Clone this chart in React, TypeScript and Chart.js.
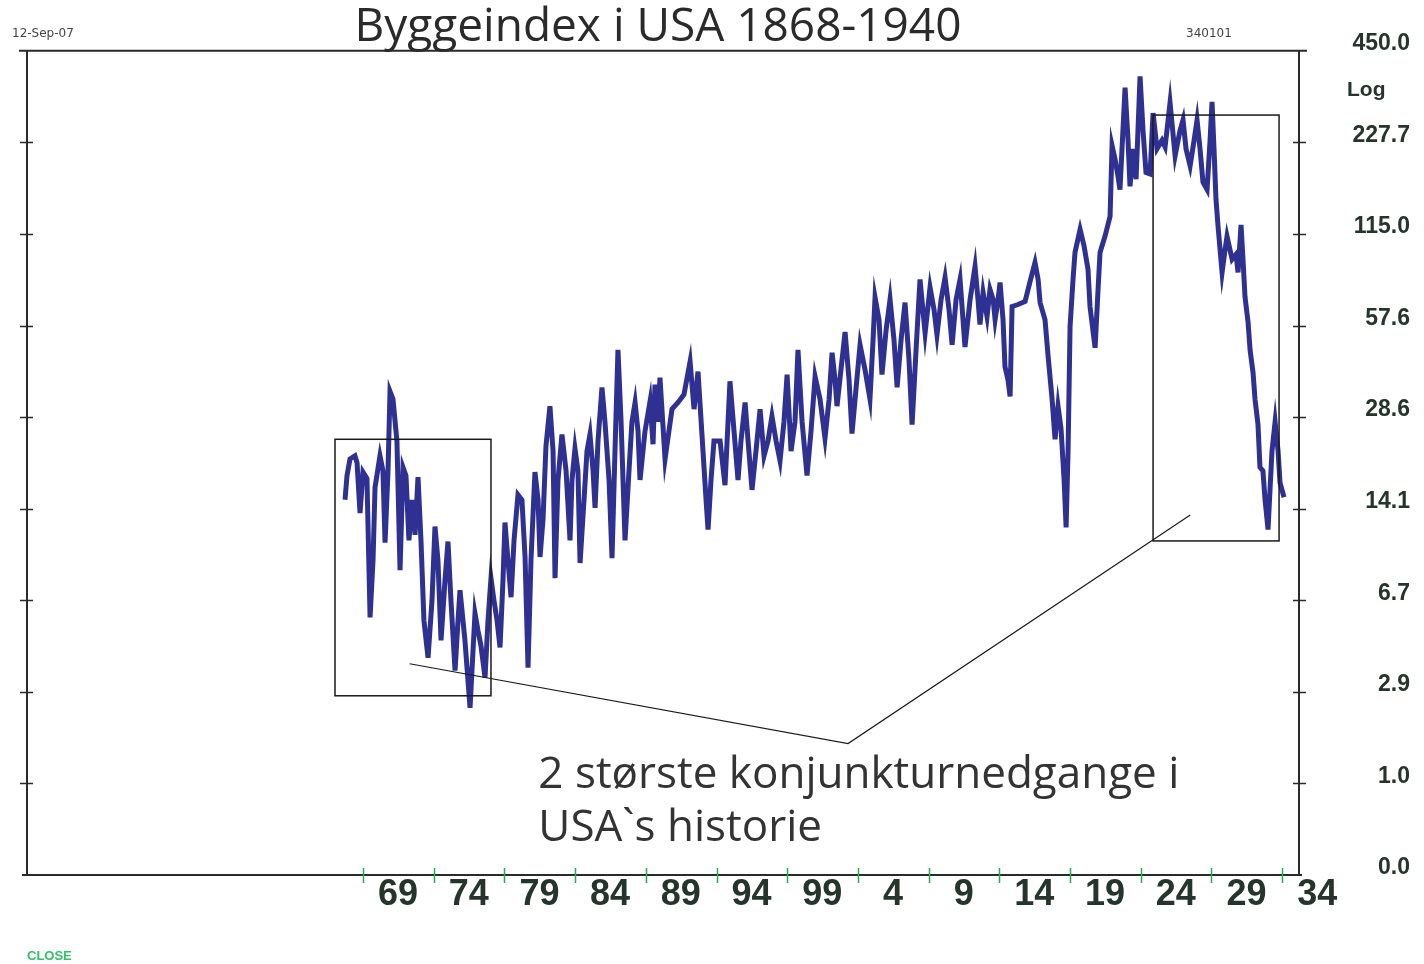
import React, { useEffect, useRef } from 'react';
import { Chart, registerables } from 'chart.js';

Chart.register(...registerables);

// ---- Data ----
const YEARS: number[] = [
  1867.73, 1867.87, 1868.08, 1868.43, 1868.58, 1868.79, 1869.00, 1869.28, 1869.50, 1869.71,
  1869.85, 1870.20, 1870.41, 1870.56, 1870.77, 1870.91, 1871.12, 1871.40, 1871.62, 1871.83,
  1872.04, 1872.25, 1872.47, 1872.68, 1872.89, 1873.10, 1873.31, 1873.60, 1873.88, 1874.09,
  1874.30, 1874.52, 1874.80, 1875.01, 1875.22, 1875.51, 1875.72, 1875.86, 1876.21, 1876.57,
  1876.78, 1876.92, 1877.13, 1877.34, 1877.63, 1877.84, 1878.05, 1878.26, 1878.48, 1878.69,
  1878.90, 1879.04, 1879.25, 1879.47, 1879.68, 1879.96, 1880.24, 1880.46, 1880.67, 1880.88,
  1881.16, 1881.38, 1881.52, 1881.73, 1881.94, 1882.22, 1882.44, 1882.58, 1882.79, 1883.07,
  1883.36, 1883.64, 1883.78, 1883.99, 1884.20, 1884.35, 1884.63, 1884.84, 1885.05, 1885.27,
  1885.41, 1885.62, 1885.90, 1886.11, 1886.40, 1886.61, 1886.82, 1887.03, 1887.25, 1887.53,
  1887.81, 1888.02, 1888.24, 1888.45, 1888.59, 1888.94, 1889.30, 1889.51, 1889.65, 1889.86,
  1890.00, 1890.36, 1890.85, 1891.28, 1891.70, 1892.13, 1892.41, 1892.69, 1892.97, 1893.26,
  1893.40, 1893.61, 1893.82, 1894.25, 1894.60, 1894.95, 1895.24, 1895.52, 1895.73, 1896.02,
  1896.23, 1896.51, 1896.79, 1897.08, 1897.36, 1897.64, 1897.92, 1898.21, 1898.49, 1898.77,
  1898.99, 1899.27, 1899.55, 1899.76, 1900.05, 1900.40, 1900.68, 1900.97, 1901.32, 1901.67,
  1901.96, 1902.17, 1902.38, 1902.52, 1902.80, 1903.09, 1903.37, 1903.58, 1903.86, 1904.15,
  1904.50, 1904.85, 1905.07, 1905.21, 1905.49, 1905.70, 1905.99, 1906.27, 1906.55, 1906.77,
  1907.05, 1907.33, 1907.61, 1907.83, 1908.11, 1908.39, 1908.75, 1909.10, 1909.38, 1909.59,
  1909.88, 1910.16, 1910.44, 1910.66, 1910.94, 1911.22, 1911.43, 1911.57, 1911.93, 1912.28,
  1912.49, 1912.63, 1912.85, 1913.13, 1913.34, 1913.56, 1913.70, 1913.91, 1914.05, 1914.26,
  1914.40, 1914.61, 1914.76, 1914.90, 1915.32, 1915.82, 1916.17, 1916.52, 1916.74, 1916.88,
  1917.23, 1917.44, 1917.73, 1917.94, 1918.15, 1918.36, 1918.58, 1918.72, 1918.86, 1919.00,
  1919.21, 1919.35, 1919.71, 1919.99, 1920.27, 1920.41, 1920.77, 1920.98, 1921.12, 1921.47,
  1921.83, 1921.97, 1922.18, 1922.39, 1922.53, 1922.89, 1923.10, 1923.24, 1923.45, 1923.67,
  1923.95, 1924.16, 1924.37, 1924.66, 1924.87, 1925.15, 1925.50, 1925.72, 1926.07, 1926.43,
  1926.78, 1926.99, 1927.20, 1927.49, 1927.77, 1927.98, 1928.19, 1928.40, 1928.69, 1928.90,
  1929.04, 1929.18, 1929.32, 1929.47, 1929.75, 1929.96, 1930.10, 1930.46, 1930.74, 1930.88,
  1931.09, 1931.23, 1931.37, 1931.59, 1931.73, 1931.94, 1932.08, 1932.29, 1932.43, 1932.64,
  1932.79, 1933.00, 1933.14, 1933.28, 1933.50, 1933.71, 1933.85, 1934.13,
];

const CLOSE_INDEX: number[] = [
  15.1, 18.2, 20.7, 21.2, 20.1, 13.6, 18.7, 17.8, 5.73, 9.29,
  16.6, 21.2, 18.9, 10.7, 18.9, 34.8, 32.8, 23.8, 8.56, 19.4,
  18.2, 10.9, 15.1, 11.4, 18.0, 10.9, 5.57, 3.96, 6.7, 12.2,
  9.29, 4.64, 7.89, 10.8, 6.7, 3.52, 5.57, 7.27, 4.64, 2.41,
  4.23, 5.94, 5.08, 4.43, 3.30, 5.57, 8.02, 6.7, 5.57, 4.35,
  7.89, 12.6, 9.29, 6.87, 10.9, 15.7, 15.1, 9.52, 3.62, 9.29,
  18.7, 15.1, 9.52, 12.9, 22.9, 31.1, 22.0, 8.02, 17.6, 25.0,
  18.9, 10.9, 17.6, 22.4, 18.9, 9.07, 15.1, 22.0, 25.0, 18.9,
  14.2, 23.8, 35.9, 27.6, 17.6, 9.44, 22.0, 47.8, 27.6, 10.9,
  18.9, 27.6, 32.0, 25.6, 17.6, 25.6, 32.3, 23.2, 36.7, 27.6,
  38.7, 20.7, 30.4, 32.0, 34.0, 43.7, 30.4, 40.5, 25.0, 15.1,
  11.9, 17.6, 23.8, 23.8, 16.9, 37.6, 25.6, 17.6, 23.8, 32.0,
  23.8, 16.3, 22.0, 30.4, 21.2, 23.8, 28.8, 23.8, 20.4, 27.6,
  39.6, 22.0, 27.6, 47.8, 27.6, 18.2, 25.6, 39.0, 32.8, 24.3,
  32.8, 46.8, 38.1, 31.1, 41.1, 54.8, 38.1, 25.2, 35.3, 49.7,
  41.1, 32.8, 51.6, 71.2, 60.2, 39.6, 55.6, 70.1, 51.6, 35.9,
  51.6, 68.5, 44.4, 27.0, 47.8, 81.6, 54.4, 76.8, 65.0, 53.6,
  70.1, 82.8, 65.0, 49.7, 70.1, 81.6, 60.2, 48.9, 70.1, 89.9,
  70.1, 58.0, 73.9, 61.6, 75.6, 70.1, 60.2, 70.1, 79.7, 60.2,
  42.0, 38.1, 33.5, 66.5, 67.5, 69.1, 80.3, 92.7, 81.6, 68.5,
  60.2, 46.0, 32.8, 24.1, 31.1, 26.2, 17.6, 12.1, 22.0, 57.0,
  81.6, 100, 119, 105, 88.0, 66.5, 48.6, 75.6, 100, 113,
  131, 222, 201, 177, 160, 342, 231, 164, 217, 173,
  372, 249, 182, 180, 283, 217, 231, 220, 306, 206,
  249, 269, 217, 191, 231, 269, 217, 169, 160, 231,
  308, 217, 149, 121, 86.0, 102, 113, 94.9, 98.6, 86.0,
  123, 94.9, 71.7, 58.9, 47.8, 40.2, 32.8, 27.0, 19.4, 18.9,
  15.1, 11.9, 16.3, 22.0, 27.6, 22.0, 17.2, 15.4,
];

const Y_TICK_VALUES: number[] = [0.0, 1.0, 2.9, 6.7, 14.1, 28.6, 57.6, 115.0, 227.7, 450.0];
const Y_TICK_LABELS: string[] = ['0.0', '1.0', '2.9', '6.7', '14.1', '28.6', '57.6', '115.0', '227.7', '450.0'];
const X_TICK_YEARS: number[] = [1869, 1874, 1879, 1884, 1889, 1894, 1899, 1904, 1909, 1914, 1919, 1924, 1929, 1934];
const X_TICK_LABELS: string[] = ['69', '74', '79', '84', '89', '94', '99', '4', '9', '14', '19', '24', '29', '34'];

// Annotation geometry (in data units: years / index values)
const BOX_1 = { fromYear: 1867.02, toYear: 1878.05, low: 2.77, high: 24.1 };
const BOX_2 = { fromYear: 1924.87, toYear: 1933.78, low: 10.85, high: 279 };
const POINTER_YEARS: number[] = [1872.3, 1903.3, 1927.5];
const POINTER_VALUES: number[] = [3.75, 1.59, 13.4];
const NOTE_LINES: string[] = ['2 største konjunkturnedgange i', 'USA`s historie'];
const NOTE_YEAR = 1881.4;
const NOTE_VALUE = 1.1;

const TITLE = 'Byggeindex i USA 1868-1940';

// piecewise-log position between the axis tick values
function toLevel(v: number): number {
  const t = Y_TICK_VALUES;
  if (v <= t[1]) return v / t[1];
  for (let i = 1; i < t.length - 1; i++) {
    if (v <= t[i + 1]) return i + Math.log(v / t[i]) / Math.log(t[i + 1] / t[i]);
  }
  const n = t.length - 1;
  return n - 1 + Math.log(v / t[n - 1]) / Math.log(t[n] / t[n - 1]);
}

const LABEL_COLOR = '#24352b';

const decorPlugin = {
  id: 'decor',
  afterDatasetsDraw(chart: any) {
    const { ctx, chartArea: a, scales } = chart;
    const xs = scales.x;
    const ys = scales.y;
    const px = (yr: number) => xs.getPixelForValue(yr);
    const py = (v: number) => ys.getPixelForValue(toLevel(v));
    ctx.save();

    // frame
    ctx.strokeStyle = '#2a2a2a';
    ctx.lineWidth = 2;
    ctx.beginPath();
    ctx.moveTo(a.left - 8, a.top);
    ctx.lineTo(a.right + 8, a.top);
    ctx.moveTo(a.left, a.top);
    ctx.lineTo(a.left, a.bottom);
    ctx.moveTo(a.right, a.top);
    ctx.lineTo(a.right, a.bottom);
    ctx.moveTo(a.left - 5, a.bottom);
    ctx.lineTo(a.right + 3, a.bottom);
    ctx.stroke();

    // y tick marks on both sides
    ctx.lineWidth = 1.5;
    ctx.beginPath();
    for (let i = 1; i < Y_TICK_VALUES.length - 1; i++) {
      const y = Math.round(ys.getPixelForValue(i)) + 0.5;
      ctx.moveTo(a.left - 7, y);
      ctx.lineTo(a.left + 6, y);
      ctx.moveTo(a.right - 6, y);
      ctx.lineTo(a.right + 7, y);
    }
    ctx.stroke();

    // green x tick marks
    ctx.strokeStyle = '#22b04b';
    ctx.lineWidth = 1.5;
    ctx.beginPath();
    for (const yr of X_TICK_YEARS) {
      const x = Math.round(px(yr)) + 0.5;
      ctx.moveTo(x, a.bottom - 7);
      ctx.lineTo(x, a.bottom + 8);
    }
    ctx.stroke();

    // annotation boxes
    ctx.strokeStyle = '#1a1a1a';
    ctx.lineWidth = 1.5;
    for (const b of [BOX_1, BOX_2]) {
      const x0 = px(b.fromYear), x1 = px(b.toYear);
      const y0 = py(b.high), y1 = py(b.low);
      ctx.strokeRect(x0, y0, x1 - x0, y1 - y0);
    }
    // pointer line
    ctx.lineWidth = 1.2;
    ctx.beginPath();
    POINTER_YEARS.forEach((yr, i) => {
      const x = px(yr), y = py(POINTER_VALUES[i]);
      if (i === 0) ctx.moveTo(x, y); else ctx.lineTo(x, y);
    });
    ctx.stroke();

    // note text
    ctx.fillStyle = '#333';
    ctx.font = '44px "Open Sans", "DejaVu Sans", sans-serif';
    ctx.textAlign = 'left';
    ctx.textBaseline = 'middle';
    const nx = px(NOTE_YEAR);
    const ny = py(NOTE_VALUE);
    NOTE_LINES.forEach((t, i) => ctx.fillText(t, nx, ny + i * 53));

    // title and small texts
    ctx.textAlign = 'center';
    ctx.font = '46px "Open Sans", "DejaVu Sans", sans-serif';
    ctx.fillStyle = '#2a2a2a';
    ctx.fillText(TITLE, 658, 28);

    ctx.textAlign = 'left';
    ctx.font = '12px "DejaVu Sans", sans-serif';
    ctx.fillStyle = '#444';
    ctx.fillText('12-Sep-07', 12, 34);
    ctx.fillText('340101', 1186, 34);

    ctx.font = 'bold 21px "Liberation Sans", Arial, sans-serif';
    ctx.fillStyle = LABEL_COLOR;
    ctx.fillText('Log', 1347, 90);

    ctx.font = 'bold 13px "Liberation Sans", Arial, sans-serif';
    ctx.fillStyle = '#33c06a';
    ctx.fillText('CLOSE', 27, 956);

    ctx.restore();
  },
};

export default function App() {
  const canvasRef = useRef<HTMLCanvasElement | null>(null);

  useEffect(() => {
    const canvas = canvasRef.current;
    if (!canvas) return;
    const n = Math.min(YEARS.length, CLOSE_INDEX.length);
    const points = [];
    for (let i = 0; i < n; i++) points.push({ x: YEARS[i], y: toLevel(CLOSE_INDEX[i]) });

    const chart = new Chart(canvas, {
      type: 'line',
      data: {
        datasets: [
          {
            label: 'CLOSE',
            data: points,
            borderColor: '#2e3192',
            borderWidth: 5,
            pointRadius: 0,
            tension: 0,
            fill: false,
            borderJoinStyle: 'miter',
          },
        ],
      },
      options: {
        animation: false,
        responsive: false,
        maintainAspectRatio: false,
        devicePixelRatio: 1,
        layout: { padding: { left: 27, top: 35, right: 14, bottom: 0 } },
        plugins: {
          legend: { display: false },
          tooltip: { enabled: false },
          title: { display: false },
        },
        scales: {
          x: {
            type: 'linear',
            min: 1845.24,
            max: 1935.19,
            afterBuildTicks: (s: any) => {
              s.ticks = X_TICK_YEARS.map((v) => ({ value: v }));
            },
            afterFit: (s: any) => {
              s.height = 89;
            },
            grid: { display: false, drawTicks: false },
            border: { display: false },
            ticks: {
              autoSkip: false,
              maxRotation: 0,
              minRotation: 0,
              labelOffset: 35,
              padding: 4,
              color: LABEL_COLOR,
              font: { family: '"Liberation Sans", Arial, sans-serif', size: 36, weight: 'bold', lineHeight: 0.9 },
              callback: (_v: any, i: number) => X_TICK_LABELS[i],
            },
          },
          y: {
            type: 'linear',
            position: 'right',
            min: 0,
            max: Y_TICK_VALUES.length - 1,
            afterBuildTicks: (s: any) => {
              s.ticks = Y_TICK_VALUES.map((_v, i) => ({ value: i }));
            },
            afterFit: (s: any) => {
              s.width = 111;
            },
            grid: { display: false, drawTicks: false },
            border: { display: false },
            ticks: {
              autoSkip: false,
              crossAlign: 'far',
              padding: 37,
              labelOffset: -7,
              color: LABEL_COLOR,
              font: { family: '"Liberation Sans", Arial, sans-serif', size: 23, weight: 'bold' },
              callback: (v: any) => Y_TICK_LABELS[Math.round(Number(v))],
            },
          },
        },
      },
      plugins: [decorPlugin],
    } as any);

    return () => chart.destroy();
  }, []);

  return (
    <div style={{ position: 'fixed', left: 0, top: 0, width: 1424, height: 964, background: '#fff' }}>
      <canvas ref={canvasRef} width={1424} height={964} style={{ display: 'block', width: 1424, height: 964 }} />
    </div>
  );
}
